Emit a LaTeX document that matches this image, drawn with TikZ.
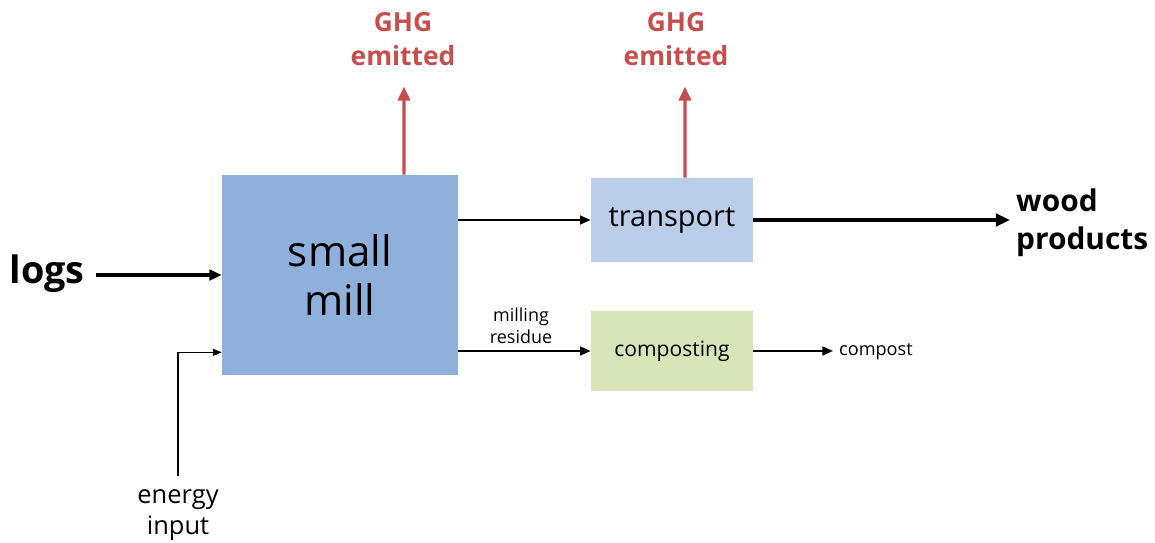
\documentclass[tikz,border=0pt]{standalone}
\usepackage{fontspec}
\setmainfont{Open Sans}
\usetikzlibrary{arrows.meta}

\definecolor{millblau}{RGB}{143,176,218}
\definecolor{transblau}{RGB}{186,206,233}
\definecolor{compverd}{RGB}{216,229,185}
\definecolor{ghgvermell}{RGB}{199,78,78}

\tikzset{
  caixa/.style={inner sep=0pt, align=center},
  fletxa/.style={-{Triangle[length=6pt,width=5pt]}, line width=1.1pt},
  ghgtext/.style={align=center, font=\fontsize{15}{19}\selectfont\bfseries, text=ghgvermell},
  ghgfletxa/.style={-{Triangle[length=8pt,width=7pt]}, line width=1.8pt, draw=ghgvermell}
}

\begin{document}
\begin{tikzpicture}[x=0.02cm, y=-0.02cm]
        \useasboundingbox (0,0) rectangle (1155,543);

        % Caixes principals
        \node[caixa, fill=millblau, minimum width=4.72cm, minimum height=4cm,
              font=\fontsize{24}{28}\selectfont] (mill) at (340,275) {small\\mill};
        \node[caixa, fill=transblau, minimum width=3.24cm, minimum height=1.68cm,
              font=\fontsize{16.5}{20}\selectfont] (transport) at (672,220) {transport};
        \node[caixa, fill=compverd, minimum width=3.24cm, minimum height=1.6cm,
              font=\fontsize{12}{14}\selectfont] (compost) at (672,351) {composting};

        % Entrades
        \node[font=\fontsize{21.5}{24}\selectfont\bfseries] (logs) at (47,274) {logs};
        \node[align=center, font=\fontsize{14.5}{18}\selectfont, anchor=north] (energy) at (178,483) {energy\\input};
        \coordinate (ein) at ([yshift=0.46cm]mill.south west);

        % Sortides
        \node[align=left, anchor=west, font=\fontsize{17}{21.5}\selectfont\bfseries] (wood) at (1010,223) {wood\\products};
        \node[anchor=west, font=\fontsize{10.3}{12}\selectfont] (compostout) at (833,352) {compost};
        \node[align=center, font=\fontsize{10.2}{12.5}\selectfont] (residue) at (521,326) {milling\\residue};

        % Emissions
        \node[ghgtext] (ghg1) at (403,39) {GHG\\emitted};
        \node[ghgtext] (ghg2) at (676,39) {GHG\\emitted};

        % Fletxes
        \draw[fletxa, line width=2pt, -{Triangle[length=7pt,width=6pt]}] ([xshift=0.1cm]logs.east |- mill.west) -- (mill.west);
        \draw[fletxa, line width=0.8pt, -{Triangle[length=5pt,width=4pt]}] ([yshift=0.14cm]energy.north) |- (ein);
        \draw[fletxa] (mill.east |- transport.west) -- (transport.west);
        \draw[fletxa] (mill.east |- compost.west) -- (compost.west);
        \draw[fletxa, line width=2.3pt, -{Triangle[length=8pt,width=7pt]}] (transport.east) -- (transport.east -| wood.west);
        \draw[fletxa] (compost.east) -- (compost.east -| compostout.west);
        \draw[ghgfletxa] ([xshift=1.28cm]mill.north) -- ([xshift=0.02cm,yshift=-0.3cm]ghg1.south);
        \draw[ghgfletxa] ([xshift=0.26cm]transport.north) -- ([xshift=0.18cm,yshift=-0.3cm]ghg2.south);

\end{tikzpicture}
\end{document}
